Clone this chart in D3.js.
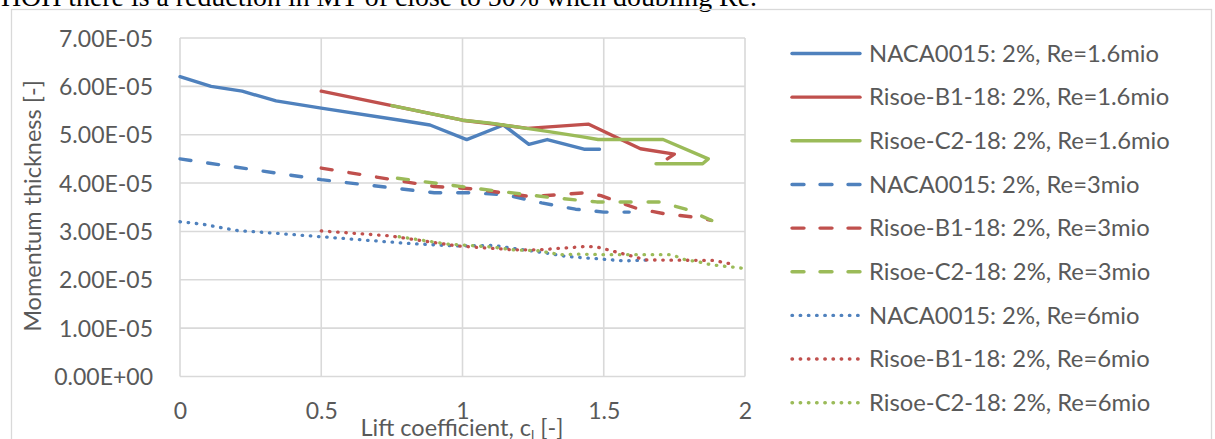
<!DOCTYPE html>
<html>
<head>
<meta charset="utf-8">
<script src="https://cdn.jsdelivr.net/npm/d3@7"></script>
<style>
  html, body { margin: 0; padding: 0; background: #fff; }
  svg { display: block; }
</style>
</head>
<body>
<svg id="chart" width="1215" height="439"></svg>
<script>
// ---- data (momentum thickness in [-], lift coefficient in [-]) ----
const xTicks = [0, 0.5, 1, 1.5, 2];
const xTickLabels = ["0", "0.5", "1", "1.5", "2"];
const yTicks = [0, 1e-5, 2e-5, 3e-5, 4e-5, 5e-5, 6e-5, 7e-5];
const yTickLabels = ["0.00E+00", "1.00E-05", "2.00E-05", "3.00E-05", "4.00E-05", "5.00E-05", "6.00E-05", "7.00E-05"];

const seriesNames = [
  "NACA0015: 2%, Re=1.6mio", "Risoe-B1-18: 2%, Re=1.6mio", "Risoe-C2-18: 2%, Re=1.6mio",
  "NACA0015: 2%, Re=3mio", "Risoe-B1-18: 2%, Re=3mio", "Risoe-C2-18: 2%, Re=3mio",
  "NACA0015: 2%, Re=6mio", "Risoe-B1-18: 2%, Re=6mio", "Risoe-C2-18: 2%, Re=6mio"
];

const naca16Cl = [0, 0.11, 0.22, 0.34, 0.5, 0.78, 0.885, 1.015, 1.145, 1.235, 1.3, 1.43, 1.485];
const naca16Mt = [6.2e-5, 6.0e-5, 5.9e-5, 5.7e-5, 5.55e-5, 5.3e-5, 5.2e-5, 4.9e-5, 5.2e-5, 4.8e-5, 4.9e-5, 4.7e-5, 4.7e-5];
const b116Cl = [0.5, 0.75, 1.0, 1.14, 1.23, 1.445, 1.63, 1.75, 1.725];
const b116Mt = [5.9e-5, 5.6e-5, 5.3e-5, 5.2e-5, 5.13e-5, 5.22e-5, 4.71e-5, 4.6e-5, 4.5e-5];
const c216Cl = [0.75, 1.0, 1.1, 1.3, 1.42, 1.48, 1.71, 1.87, 1.85, 1.685];
const c216Mt = [5.6e-5, 5.3e-5, 5.24e-5, 5.07e-5, 4.96e-5, 4.9e-5, 4.9e-5, 4.5e-5, 4.4e-5, 4.4e-5];

const naca3Cl = [0, 0.5, 0.9, 1.02, 1.15, 1.28, 1.4, 1.5, 1.59];
const naca3Mt = [4.5e-5, 4.07e-5, 3.8e-5, 3.8e-5, 3.76e-5, 3.59e-5, 3.46e-5, 3.4e-5, 3.4e-5];
const b13Cl = [0.5, 0.9, 1.04, 1.24, 1.435, 1.49, 1.62, 1.72, 1.815, 1.88];
const b13Mt = [4.31e-5, 3.93e-5, 3.88e-5, 3.72e-5, 3.8e-5, 3.74e-5, 3.47e-5, 3.36e-5, 3.3e-5, 3.23e-5];
const c23Cl = [0.77, 1.06, 1.3, 1.475, 1.7, 1.79, 1.885];
const c23Mt = [4.1e-5, 3.88e-5, 3.71e-5, 3.61e-5, 3.61e-5, 3.46e-5, 3.22e-5];

const naca6Cl = [0, 0.08, 0.2, 0.32, 0.5, 0.79, 0.97, 1.11, 1.215, 1.3, 1.37, 1.49, 1.57, 1.66];
const naca6Mt = [3.2e-5, 3.15e-5, 3.02e-5, 2.97e-5, 2.89e-5, 2.76e-5, 2.7e-5, 2.71e-5, 2.62e-5, 2.55e-5, 2.48e-5, 2.43e-5, 2.39e-5, 2.41e-5];
const b16Cl = [0.5, 0.74, 0.98, 1.18, 1.27, 1.44, 1.475, 1.58, 1.65, 1.89, 1.965];
const b16Mt = [3.01e-5, 2.91e-5, 2.7e-5, 2.62e-5, 2.62e-5, 2.69e-5, 2.68e-5, 2.52e-5, 2.41e-5, 2.4e-5, 2.31e-5];
const c26Cl = [0.776, 0.944, 1.1, 1.18, 1.27, 1.345, 1.416, 1.5, 1.74, 1.79, 1.83, 1.88, 1.99];
const c26Mt = [2.89e-5, 2.74e-5, 2.68e-5, 2.62e-5, 2.6e-5, 2.52e-5, 2.53e-5, 2.52e-5, 2.52e-5, 2.41e-5, 2.38e-5, 2.31e-5, 2.24e-5];

const seriesCl = [naca16Cl, b116Cl, c216Cl, naca3Cl, b13Cl, c23Cl, naca6Cl, b16Cl, c26Cl];
const seriesMt = [naca16Mt, b116Mt, c216Mt, naca3Mt, b13Mt, c23Mt, naca6Mt, b16Mt, c26Mt];

// ---- styles ----
const colors = ["#4F81BD", "#C0504D", "#9BBB59"];
const dashes = [null, "11,17", "0.5,7.7"];
const textColor = "#595959";
const gridColor = "#d9d9d9";
const font = "Lato, 'Open Sans', sans-serif";

const svg = d3.select("#chart");
svg.append("rect").attr("x", 0).attr("y", 0).attr("width", 1215).attr("height", 439).attr("fill", "#fff");

// text above the chart (cut off)
svg.append("text")
  .attr("x", 1).attr("y", 6)
  .attr("font-family", "'Liberation Serif', 'Times New Roman', serif")
  .attr("font-size", 27)
  .attr("fill", "#000")
  .attr("textLength", 756)
  .attr("lengthAdjust", "spacingAndGlyphs")
  .text("HOH there is a reduction in MT of close to 50% when doubling Re.");

// chart border
svg.append("rect")
  .attr("x", 11.5).attr("y", 9.5).attr("width", 1200).attr("height", 440)
  .attr("fill", "none").attr("stroke", gridColor).attr("stroke-width", 1.3);

const x = d3.scaleLinear().domain([0, 2]).range([180, 745]);
const y = d3.scaleLinear().domain([0, 7e-5]).range([376.5, 38]);

// gridlines
const g = svg.append("g");
g.selectAll("line.h").data(yTicks).join("line")
  .attr("x1", x(0)).attr("x2", x(2))
  .attr("y1", d => y(d)).attr("y2", d => y(d))
  .attr("stroke", gridColor).attr("stroke-width", 1.6);
g.selectAll("line.v").data(xTicks).join("line")
  .attr("y1", y(0)).attr("y2", y(7e-5))
  .attr("x1", d => x(d)).attr("x2", d => x(d))
  .attr("stroke", gridColor).attr("stroke-width", 1.6);

// axes
const yAxis = d3.axisLeft(y).tickValues(yTicks).tickSize(0).tickPadding(27)
  .tickFormat((d, i) => yTickLabels[i]);
const ya = svg.append("g").attr("transform", `translate(${x(0)},0)`).call(yAxis);
ya.select(".domain").remove();
ya.selectAll("text").attr("font-family", font).attr("font-size", 23).attr("fill", textColor)
  .attr("dy", "0.35em");

const xAxis = d3.axisBottom(x).tickValues(xTicks).tickSize(0).tickPadding(0)
  .tickFormat((d, i) => xTickLabels[i]);
const xa = svg.append("g").attr("transform", `translate(0,${y(0)})`).call(xAxis);
xa.select(".domain").remove();
xa.selectAll("text").attr("font-family", font).attr("font-size", 23).attr("fill", textColor)
  .attr("dy", null).attr("y", 42.5);

// axis titles
svg.append("text")
  .attr("transform", "translate(41,206) rotate(-90)")
  .attr("text-anchor", "middle")
  .attr("font-family", font).attr("font-size", 23.5).attr("fill", textColor)
  .text("Momentum thickness [-]");

const xt = svg.append("text")
  .attr("x", 462).attr("y", 436)
  .attr("text-anchor", "middle")
  .attr("font-family", font).attr("font-size", 23.5).attr("fill", textColor);
xt.append("tspan").text("Lift coefficient, c");
xt.append("tspan").attr("font-size", 14).attr("dy", 4).text("l");
xt.append("tspan").attr("dy", -4).text(" [-]");

// series lines
const line = d3.line().x(d => x(d[0])).y(d => y(d[1]));
const plot = svg.append("g");
seriesNames.forEach((name, i) => {
  const pts = seriesCl[i].map((c, k) => [c, seriesMt[i][k]]);
  const style = Math.floor(i / 3);
  plot.append("path")
    .attr("d", line(pts))
    .attr("fill", "none")
    .attr("stroke", colors[i % 3])
    .attr("stroke-width", style === 2 ? 3.3 : 3.4)
    .attr("stroke-linecap", "round")
    .attr("stroke-linejoin", "round")
    .attr("stroke-dasharray", dashes[style]);
});

// legend
const legend = svg.append("g");
seriesNames.forEach((name, i) => {
  const style = Math.floor(i / 3);
  const cy = 53.5 + i * 43.65;
  legend.append("line")
    .attr("x1", 792).attr("x2", 860).attr("y1", cy).attr("y2", cy)
    .attr("stroke", colors[i % 3])
    .attr("stroke-width", 3.4)
    .attr("stroke-linecap", "round")
    .attr("stroke-dasharray", style === 1 ? "12,16" : dashes[style]);
  legend.append("text")
    .attr("x", 869).attr("y", cy).attr("dy", "0.35em")
    .attr("font-family", font).attr("font-size", 23.8).attr("fill", textColor)
    .text(name);
});
</script>
</body>
</html>
